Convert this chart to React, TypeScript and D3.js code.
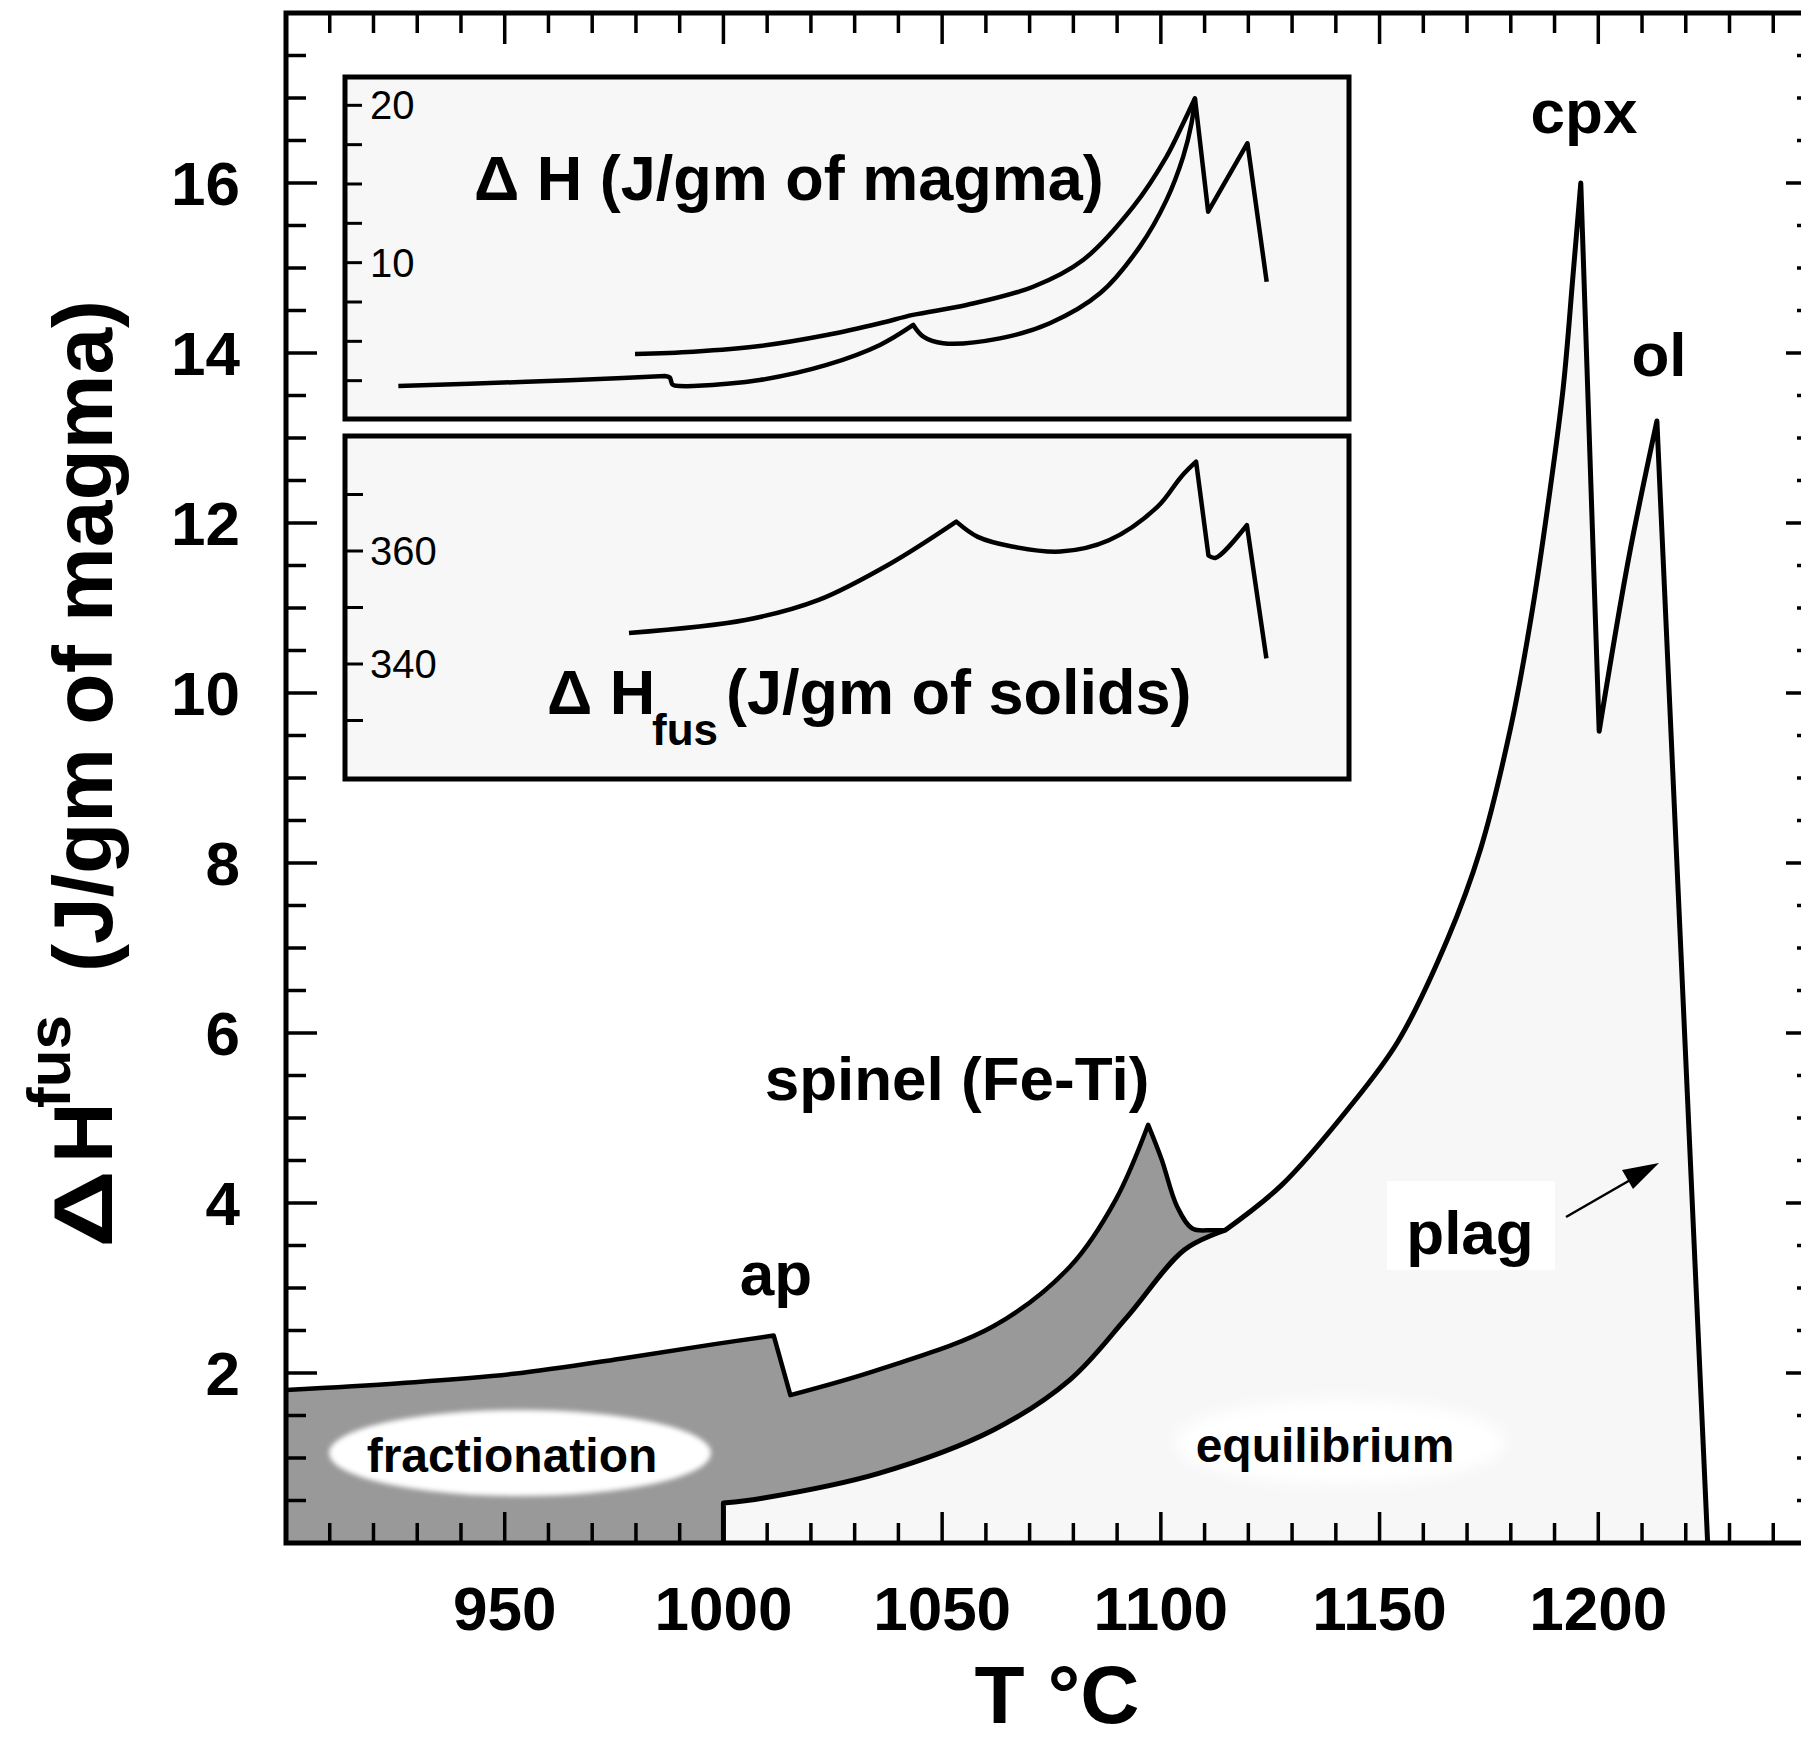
import React from "react";
import * as d3 from "d3";

type Pt = [number, number];

// main panel: temperature (°C) vs ΔH fus (J/gm of magma)
// each curve is split into smooth runs; neighbouring runs share their end points
const fracSegments: Pt[][] = [
  [[900, 1.8], [926, 1.88], [952, 1.99], [978, 2.18], [998, 2.34], [1011.5, 2.44]],
  [[1011.5, 2.44], [1015.3, 1.74]],
  [[1015.3, 1.74], [1035.5, 2.04], [1061.7, 2.55], [1079.2, 3.25], [1089.7, 4.04], [1097.1, 4.92]],
  [[1097.1, 4.92], [1100.2, 4.51], [1103.7, 3.96], [1107.2, 3.7], [1111.6, 3.68], [1114.7, 3.68]],
];

const equilLow: Pt[][] = [
  [[1000, 0], [1000, 0.47]],
  [[1000, 0.47], [1009.2, 0.53], [1035.5, 0.82], [1061.7, 1.33], [1079.2, 1.92], [1092.3, 2.66], [1105.4, 3.45], [1114.7, 3.68]],
];
const equilHigh: Pt[][] = [
  [[1114.7, 3.68], [1127.6, 4.21], [1142.7, 5.1], [1154.2, 5.9], [1165.5, 7.1], [1173, 8.15], [1180, 9.6], [1185, 11.0], [1189, 12.4], [1192, 13.6], [1194.2, 14.9], [1196, 16.0]],
  [[1196, 16.0], [1200.2, 9.55]],
  [[1200.2, 9.55], [1207, 11.6], [1213.4, 13.2]],
  [[1213.4, 13.2], [1225, 0]],
];

// upper inset: ΔH (J/gm of magma)
const insetFrac: Pt[][] = [
  [[918.6, 2.16], [963.3, 2.43], [986.5, 2.59], [1011.5, 2.8]],
  [[1011.5, 2.8], [1013.2, 2.7], [1014.2, 2.25], [1016.5, 2.16]],
  [[1016.5, 2.16], [1021.4, 2.16], [1044.6, 2.54], [1067.9, 3.5], [1086.5, 4.77], [1098.1, 6.04]],
  [[1098.1, 6.04], [1101.6, 5.3], [1108.5, 4.88], [1128.3, 5.19], [1145.7, 6.15], [1163.2, 8.05], [1177.1, 11.02], [1186.4, 13.99], [1192.2, 16.74], [1195.1, 18.86], [1196.3, 20.45]],
];
const insetEquil: Pt[][] = [
  [[1001.1, 4.2], [1021.4, 4.34], [1044.6, 4.7], [1067.9, 5.4], [1086.5, 6.15], [1098, 6.68], [1116.7, 7.31], [1139.9, 8.47], [1157.3, 10.17], [1174.8, 13.56], [1186.4, 16.74], [1192.2, 18.86], [1196.3, 20.45]],
  [[1196.3, 20.45], [1200.9, 13.24]],
  [[1200.9, 13.24], [1214.6, 17.59]],
  [[1214.6, 17.59], [1221.3, 8.79]],
];

// lower inset: ΔH fus (J/gm of solids)
const insetSolids: Pt[][] = [
  [[999, 345.5], [1039.6, 347.8], [1064.9, 351.3], [1090.2, 357.8], [1113.1, 365.2]],
  [[1113.1, 365.2], [1120.6, 362.5], [1132.5, 360.8], [1149.4, 359.9], [1166.3, 361.9], [1183.2, 367.8], [1191.6, 373.2], [1196.7, 375.8]],
  [[1196.7, 375.8], [1201, 359.2]],
  [[1201, 359.2], [1203.5, 358.8], [1214.4, 364.6]],
  [[1214.4, 364.6], [1221.2, 341.0]],
];

const xTickLabels = [950, 1000, 1050, 1100, 1150, 1200];
const yTickLabels = [2, 4, 6, 8, 10, 12, 14, 16];
const inset1Labels = [10, 20];
const inset1Ticks = [2.5, 5, 7.5, 10, 12.5, 15, 17.5, 20];
const inset2Labels = [340, 360];
const inset2Ticks = [330, 340, 350, 360, 370];

const FONT = "'Liberation Sans', Arial, Helvetica, sans-serif";
const W = 1801;
const H = 1742;

const x = d3.scaleLinear().domain([900, 1250]).range([286, 1817]);
const y = d3.scaleLinear().domain([0, 18]).range([1543, 13]);
const xi = d3.scaleLinear().domain([900, 1250]).range([345, 1349]);
const yi1 = d3.scaleLinear().domain([0, 21.8]).range([420, 77]);
const yi2 = d3.scaleLinear().domain([320, 380]).range([777, 438]);

function segPath(segs: Pt[][], xs: any, ys: any): string {
  const smooth = d3.line<Pt>().x(d => xs(d[0])).y(d => ys(d[1])).curve(d3.curveCatmullRom.alpha(0.5));
  const straight = d3.line<Pt>().x(d => xs(d[0])).y(d => ys(d[1]));
  return segs
    .map((s, i) => {
      const p = (s.length > 2 ? smooth(s) : straight(s)) || "";
      return i === 0 ? p : p.replace(/^M/, "L");
    })
    .join("");
}

const reverseSegs = (segs: Pt[][]) => segs.slice().reverse().map(s => s.slice().reverse() as Pt[]);

export default function App() {
  const equilAll = [...equilLow, ...equilHigh];
  const lightFill = segPath(equilAll, x, y) + "Z";
  const darkFill =
    segPath(fracSegments, x, y) +
    segPath(reverseSegs(equilLow), x, y).replace(/^M/, "L") +
    `L${x(900)},${y(0)}Z`;

  const xTicks = d3.range(900, 1251, 10);
  const yTicks = d3.range(0.5, 18, 0.5);
  const tickW = 3.5;

  return (
    <svg width={W} height={H} style={{ position: "absolute", left: 0, top: 0, background: "#fff" }} fontFamily={FONT}>
      <defs>
        <filter id="soft" x="-20%" y="-40%" width="140%" height="180%">
          <feGaussianBlur stdDeviation="2.5" />
        </filter>
        <filter id="softer" x="-20%" y="-40%" width="140%" height="180%">
          <feGaussianBlur stdDeviation="7" />
        </filter>
      </defs>

      {/* filled regions */}
      <path d={lightFill} fill="#f7f7f7" />
      <path d={darkFill} fill="#999999" />

      {/* region labels */}
      <ellipse cx={520} cy={1453} rx={191} ry={43} fill="#fff" filter="url(#soft)" />
      <text x={512} y={1472} fontSize={48} fontWeight="bold" textAnchor="middle">fractionation</text>
      <ellipse cx={1340} cy={1442} rx={165} ry={42} fill="#fff" filter="url(#softer)" />
      <text x={1325} y={1462} fontSize={48} fontWeight="bold" textAnchor="middle">equilibrium</text>

      {/* curves */}
      <path d={segPath(equilAll, x, y)} fill="none" stroke="#000" strokeWidth={5} strokeLinejoin="round" />
      <path d={segPath(fracSegments, x, y)} fill="none" stroke="#000" strokeWidth={4.5} strokeLinejoin="round" />

      {/* frame and ticks */}
      <rect x={x(900)} y={y(18)} width={x(1250) - x(900)} height={y(0) - y(18)} fill="none" stroke="#000" strokeWidth={5} />
      {xTicks.map(t => {
        const len = t % 50 === 0 ? 31 : 20;
        return (
          <g key={"xt" + t} stroke="#000" strokeWidth={tickW}>
            <line x1={x(t)} x2={x(t)} y1={y(0)} y2={y(0) - len} />
            <line x1={x(t)} x2={x(t)} y1={y(18)} y2={y(18) + len} />
          </g>
        );
      })}
      {yTicks.map(v => {
        const len = v % 2 === 0 ? 31 : 20;
        return (
          <g key={"yt" + v} stroke="#000" strokeWidth={tickW}>
            <line x1={x(900)} x2={x(900) + len} y1={y(v)} y2={y(v)} />
            <line x1={x(1250)} x2={x(1250) - len} y1={y(v)} y2={y(v)} />
          </g>
        );
      })}

      {xTickLabels.map(t => (
        <text key={"xl" + t} x={x(t)} y={1630} fontSize={62} fontWeight="bold" textAnchor="middle">{t}</text>
      ))}
      {yTickLabels.map(v => (
        <text key={"yl" + v} x={240} y={y(v)} dy="0.35em" fontSize={62} fontWeight="bold" textAnchor="end">{v}</text>
      ))}

      {/* axis titles */}
      <text x={1057} y={1723} fontSize={82} fontWeight="bold" textAnchor="middle">T °C</text>
      <g transform="translate(112,1248) rotate(-90)">
        <text x={0} y={0} fontSize={84} fontWeight="bold" textLength={78} lengthAdjust="spacingAndGlyphs">Δ</text>
        <text x={85} y={0} fontSize={84} fontWeight="bold">H</text>
        <text x={140} y={-42} fontSize={62} fontWeight="bold">fus</text>
        <text x={276} y={0} fontSize={84} fontWeight="bold">(J/gm of magma)</text>
      </g>

      {/* peak annotations */}
      <text x={1584} y={133} fontSize={62} fontWeight="bold" textAnchor="middle">cpx</text>
      <text x={1659} y={376} fontSize={62} fontWeight="bold" textAnchor="middle">ol</text>
      <text x={957} y={1100} fontSize={62} fontWeight="bold" textAnchor="middle">spinel (Fe-Ti)</text>
      <text x={776} y={1295} fontSize={62} fontWeight="bold" textAnchor="middle">ap</text>
      <rect x={1387} y={1181} width={168} height={89} fill="#fff" />
      <text x={1470} y={1254} fontSize={62} fontWeight="bold" textAnchor="middle">plag</text>
      <line x1={1566} y1={1217} x2={1632} y2={1179} stroke="#000" strokeWidth={2.5} />
      <path d="M1659,1163 L1622,1170 L1633,1189 Z" fill="#000" />

      {/* upper inset */}
      <rect x={345} y={77} width={1004} height={342} fill="#f7f7f7" stroke="#000" strokeWidth={5} />
      {inset1Ticks.map(v => (
        <line key={"i1t" + v} x1={345} x2={362} y1={yi1(v)} y2={yi1(v)} stroke="#000" strokeWidth={3} />
      ))}
      {inset1Labels.map(v => (
        <text key={"i1l" + v} x={370} y={yi1(v)} dy="0.35em" fontSize={40}>{v}</text>
      ))}
      <text x={474} y={200} fontSize={63} fontWeight="bold">Δ H (J/gm of magma)</text>
      <path d={segPath(insetEquil, xi, yi1)} fill="none" stroke="#000" strokeWidth={4.5} strokeLinejoin="round" />
      <path d={segPath(insetFrac, xi, yi1)} fill="none" stroke="#000" strokeWidth={4.5} strokeLinejoin="round" />

      {/* lower inset */}
      <rect x={345} y={436} width={1004} height={343} fill="#f7f7f7" stroke="#000" strokeWidth={5} />
      {inset2Ticks.map(v => (
        <line key={"i2t" + v} x1={345} x2={363} y1={yi2(v)} y2={yi2(v)} stroke="#000" strokeWidth={3} />
      ))}
      {inset2Labels.map(v => (
        <text key={"i2l" + v} x={370} y={yi2(v)} dy="0.35em" fontSize={40}>{v}</text>
      ))}
      <text x={547} y={714} fontSize={63} fontWeight="bold">Δ H</text>
      <text x={652} y={745} fontSize={44} fontWeight="bold">fus</text>
      <text x={726} y={714} fontSize={63} fontWeight="bold">(J/gm of solids)</text>
      <path d={segPath(insetSolids, xi, yi2)} fill="none" stroke="#000" strokeWidth={4.5} strokeLinejoin="round" />
    </svg>
  );
}
